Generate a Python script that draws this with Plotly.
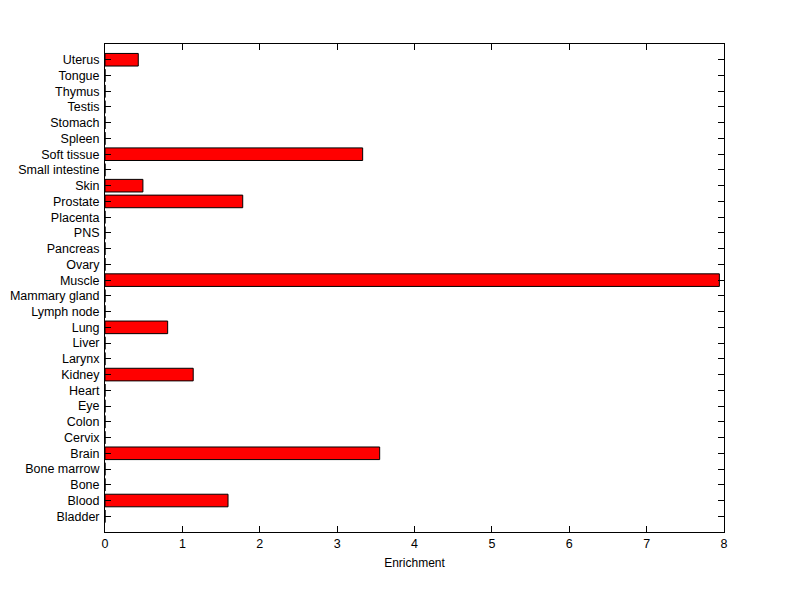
import plotly.graph_objects as go

categories = ["Bladder", "Blood", "Bone", "Bone marrow", "Brain", "Cervix", "Colon", "Eye",
              "Heart", "Kidney", "Larynx", "Liver", "Lung", "Lymph node", "Mammary gland",
              "Muscle", "Ovary", "Pancreas", "PNS", "Placenta", "Prostate", "Skin",
              "Small intestine", "Soft tissue", "Spleen", "Stomach", "Testis", "Thymus",
              "Tongue", "Uterus"]
enrichment = [0, 1.59, 0, 0, 3.55, 0, 0, 0,
              0, 1.14, 0, 0, 0.81, 0, 0,
              7.94, 0, 0, 0, 0, 1.78, 0.49,
              0, 3.33, 0, 0, 0, 0,
              0, 0.43]
x_ticks = [0, 1, 2, 3, 4, 5, 6, 7, 8]

idx = list(range(len(categories)))

fig = go.Figure(go.Bar(
    x=enrichment, y=idx, orientation="h", width=0.8,
    marker=dict(color="#ff0000", line=dict(color="black", width=1)),
))

fig.update_layout(
    width=800, height=599,
    margin=dict(l=97, r=84, t=36, b=75),
    paper_bgcolor="white", plot_bgcolor="white",
    font=dict(family="Liberation Sans, Arial, Helvetica, sans-serif", size=12.5, color="black"),
    showlegend=False,
)
fig.update_xaxes(
    range=[0, 8], tickvals=x_ticks, ticktext=[str(v) for v in x_ticks],
    showgrid=False, zeroline=False, showline=True, linecolor="black", linewidth=1,
    mirror="ticks", ticks="inside", ticklen=6, tickcolor="black", automargin=False,
    title=dict(text="Enrichment", standoff=8, font=dict(size=12)),
)
fig.update_yaxes(
    range=[-1, 30], tickvals=idx, ticktext=categories,
    showgrid=False, zeroline=False, showline=True, linecolor="black", linewidth=1,
    mirror="ticks", ticks="inside", ticklen=6, tickcolor="black", automargin=False,
    ticklabelstandoff=2,
)

fig.write_html("out.html")
